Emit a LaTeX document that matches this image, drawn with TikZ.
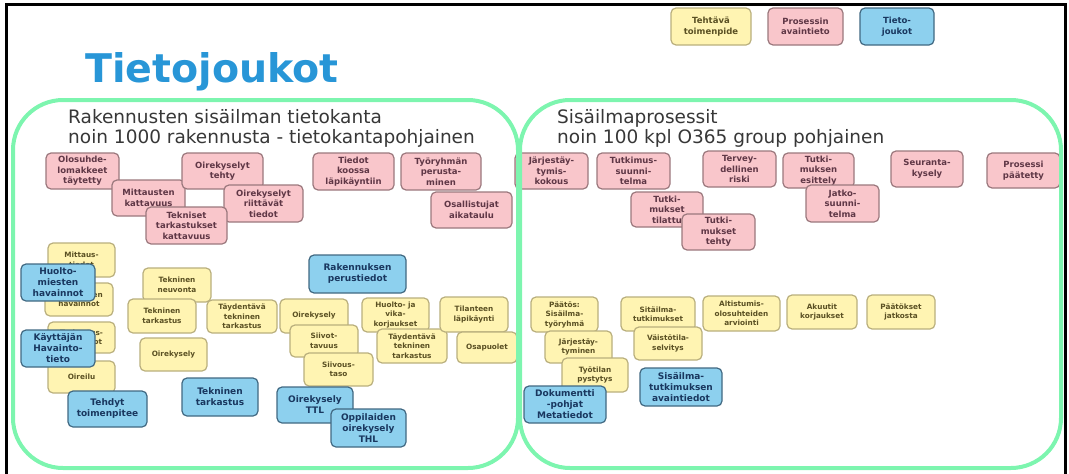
\documentclass[tikz,border=0pt]{standalone}
\usepackage{fontspec}
\setmainfont{DejaVu Sans}
\definecolor{vihrea}{RGB}{125,245,175}
\definecolor{otsikkosin}{RGB}{40,150,215}
\definecolor{harmaa}{RGB}{55,55,55}
\definecolor{keltainen}{RGB}{255,244,178}
\definecolor{keltreuna}{RGB}{185,175,125}
\definecolor{kelttxt}{RGB}{90,80,35}
\definecolor{pinkki}{RGB}{249,198,203}
\definecolor{pinkreuna}{RGB}{155,120,125}
\definecolor{pinktxt}{RGB}{95,55,70}
\definecolor{sininen}{RGB}{141,208,238}
\definecolor{sinreuna}{RGB}{65,105,130}
\definecolor{sintxt}{RGB}{25,55,95}
\begin{document}
\begin{tikzpicture}[x=1pt, y=-1pt,
        laatikko/.style={rectangle, rounded corners=5, line width=1.2, align=center, inner sep=1, font=\bfseries\fontsize{8.5}{10.5}\selectfont},
        tehtava/.style={laatikko, draw=keltreuna, fill=keltainen, text=kelttxt, font=\bfseries\fontsize{7.3}{9.5}\selectfont},
        avain/.style={laatikko, draw=pinkreuna, fill=pinkki, text=pinktxt},
        tieto/.style={laatikko, draw=sinreuna, fill=sininen, text=sintxt, font=\bfseries\fontsize{9}{11}\selectfont},
        koko/.style 2 args={minimum width=#1, minimum height=#2},
        joukko/.style={draw=vihrea, line width=4, rounded corners=50},
        otsake/.style={anchor=base west, inner sep=0, align=left, text=harmaa, font=\fontsize{18.5}{20}\selectfont}]
    \useasboundingbox (0,0) rectangle (1069,474);
    \draw[line width=3] (6,474) -- (6,4) -- (1065,4) -- (1065,474);

    % otsikot
    \node[anchor=base west, inner sep=0, text=otsikkosin, font=\bfseries\fontsize{39.5}{48}\selectfont] (otsikko) at (85,82) {Tietojoukot};
    \node[otsake] (kanta) at (68,143) {Rakennusten sisäilman tietokanta\\noin 1000 rakennusta - tietokantapohjainen};
    \node[otsake] (prosessit) at (557,143) {Sisäilmaprosessit\\noin 100 kpl O365 group pohjainen};

    % selite
    \node[tehtava, koko={80}{37}, font=\bfseries\fontsize{8.5}{10.5}\selectfont] (s1) at (711,26.5) {Tehtävä\\toimenpide};
    \node[avain, koko={75}{37}] (s2) at (805.5,26.5) {Prosessin\\avaintieto};
    \node[tieto, koko={74}{37}, font=\bfseries\fontsize{8.5}{10.5}\selectfont] (s3) at (897,26.5) {Tieto-\\joukot};

    % tietokanta: avaintiedot
    \node[avain, koko={73}{36}] (olo) at (82.5,171) {Olosuhde-\\lomakkeet\\täytetty};
    \node[avain, koko={73}{36}] (mkat) at (148.5,198) {Mittausten\\kattavuus};
    \node[avain, koko={81}{36}] (otehty) at (222.5,171) {Oirekyselyt\\tehty};
    \node[avain, koko={79}{37}] (oriit) at (263.5,203.5) {Oirekyselyt\\riittävät\\tiedot};
    \node[avain, koko={81}{37}] (tkat) at (186.5,225.5) {Tekniset\\tarkastukset\\kattavuus};
    \node[avain, koko={81}{37}] (koossa) at (353.5,171.5) {Tiedot\\koossa\\läpikäyntiin};
    \node[avain, koko={80}{37}] (tyor) at (441,171.5) {Työryhmän\\perusta-\\minen};
    \node[avain, koko={81}{36}] (osall) at (471.5,210) {Osallistujat\\aikataulu};

    % tietokanta: tehtävät
    \node[tehtava, koko={67}{34}] (mtied) at (81.5,260) {Mittaus-\\tiedot};
    \node[tehtava, koko={68}{33}] (ahav) at (79,299.5) {Asukkaiden\\havainnot};
    \node[tehtava, koko={67}{31}] (thav) at (81.5,337.5) {Tarkastus-\\havainnot};
    \node[tehtava, koko={67}{32}] (oireilu) at (81.5,377) {Oireilu};
    \node[tehtava, koko={68}{34}] (neuv) at (177,285) {Tekninen\\neuvonta};
    \node[tehtava, koko={68}{34}] (tark) at (162,316) {Tekninen\\tarkastus};
    \node[tehtava, koko={70}{33}] (tayd) at (242,316.5) {Täydentävä\\tekninen\\tarkastus};
    \node[tehtava, koko={67}{33}] (oky) at (173.5,354.5) {Oirekysely};
    \node[tehtava, koko={68}{34}] (oky2) at (314,316) {Oirekysely};
    \node[tehtava, koko={68}{32}] (siivot) at (324,341) {Siivot-\\tavuus};
    \node[tehtava, koko={69}{33}] (siivous) at (338.5,369.5) {Siivous-\\taso};
    \node[tehtava, koko={67}{34}] (huolto) at (395.5,315) {Huolto- ja\\vika-\\korjaukset};
    \node[tehtava, koko={70}{34}] (tayd2) at (412,346) {Täydentävä\\tekninen\\tarkastus};
    \node[tehtava, koko={68}{35}] (tilanne) at (474,314.5) {Tilanteen\\läpikäynti};
    \node[tehtava, koko={60}{31}] (osap) at (487,347.5) {Osapuolet};

    % tietokanta: tietojoukot
    \node[tieto, koko={74}{37}] (huoltom) at (58,282.5) {Huolto-\\miesten\\havainnot};
    \node[tieto, koko={74}{37}] (kaytt) at (58,348.5) {Käyttäjän\\Havainto-\\tieto};
    \node[tieto, koko={79}{36}] (tehdyt) at (107.5,409) {Tehdyt\\toimenpitee};
    \node[tieto, koko={76}{38}] (tarkt) at (220,397) {Tekninen\\tarkastus};
    \node[tieto, koko={97}{38}] (perus) at (357.5,274) {Rakennuksen\\perustiedot};
    \node[tieto, koko={76}{36}] (ttl) at (315,405) {Oirekysely\\TTL};
    \node[tieto, koko={75}{38}] (thl) at (368.5,428) {Oppilaiden\\oirekysely\\THL};

    % prosessit: avaintiedot
    \node[avain, koko={73}{36}] (jkok) at (551.5,171) {Järjestäy-\\tymis-\\kokous};
    \node[avain, koko={73}{36}] (tsuun) at (633.5,171) {Tutkimus-\\suunni-\\telma};
    \node[avain, koko={73}{36}] (riski) at (739.5,169) {Tervey-\\dellinen\\riski};
    \node[avain, koko={72}{35}] (tilattu) at (667,209.5) {Tutki-\\mukset\\tilattu};
    \node[avain, koko={73}{36}] (ttehty) at (718.5,232) {Tutki-\\mukset\\tehty};
    \node[avain, koko={71}{35}] (esitt) at (818.5,170.5) {Tutki-\\muksen\\esittely};
    \node[avain, koko={73}{37}] (jatko) at (842.5,203.5) {Jatko-\\suunni-\\telma};
    \node[avain, koko={72}{36}] (seur) at (927,169) {Seuranta-\\kysely};
    \node[avain, koko={73}{35}] (paat) at (1023.5,170.5) {Prosessi\\päätetty};

    % prosessit: tehtävät
    \node[tehtava, koko={67}{35}] (paatos) at (564.5,314.5) {Päätös:\\Sisäilma-\\työryhmä};
    \node[tehtava, koko={67}{32}] (jtym) at (578.5,347) {Järjestäy-\\tyminen};
    \node[tehtava, koko={66}{34}] (tyotila) at (595,375) {Työtilan\\pystytys};
    \node[tehtava, koko={74}{34}] (sitail) at (658,314) {Sitäilma-\\tutkimukset};
    \node[tehtava, koko={68}{33}] (vaisto) at (668,343.5) {Väistötila-\\selvitys};
    \node[tehtava, koko={77}{35}] (altis) at (741.5,313.5) {Altistumis-\\olosuhteiden\\arviointi};
    \node[tehtava, koko={70}{34}] (akuut) at (822,312) {Akuutit\\korjaukset};
    \node[tehtava, koko={68}{34}] (jatkosta) at (901,312) {Päätökset\\jatkosta};

    % prosessit: tietojoukot
    \node[tieto, koko={82}{37}] (dok) at (565,404.5) {Dokumentti\\-pohjat\\Metatiedot};
    \node[tieto, koko={82}{38}] (avtied) at (681,387) {Sisäilma-\\tutkimuksen\\avaintiedot};

    % joukot
    \draw[joukko] (13,100) rectangle (518,468);
    \draw[joukko] (520,100) rectangle (1061,468);
\end{tikzpicture}
\end{document}
